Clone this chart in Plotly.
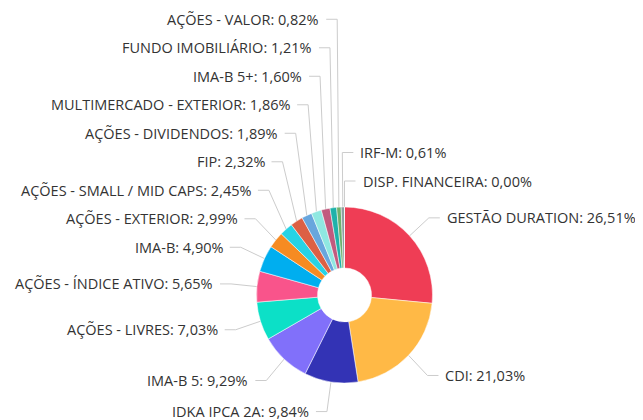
import math
import plotly.graph_objects as go

categories = [
    "GESTÃO DURATION", "CDI", "IDKA IPCA 2A", "IMA-B 5", "AÇÕES - LIVRES",
    "AÇÕES - ÍNDICE ATIVO", "IMA-B", "AÇÕES - EXTERIOR", "AÇÕES - SMALL / MID CAPS",
    "FIP", "AÇÕES - DIVIDENDOS", "MULTIMERCADO - EXTERIOR", "IMA-B 5+",
    "FUNDO IMOBILIÁRIO", "AÇÕES - VALOR", "IRF-M", "DISP. FINANCEIRA",
]
values = [26.51, 21.03, 9.84, 9.29, 7.03, 5.65, 4.90, 2.99, 2.45,
          2.32, 1.89, 1.86, 1.60, 1.21, 0.82, 0.61, 0.00]
colors = ["#EF3D55", "#FFB946", "#3333B5", "#8170FA", "#0CE0C7", "#F9548B",
          "#00AEEF", "#F68B22", "#27D3E5", "#DC6044", "#68A6DD", "#8FE8E1",
          "#C15A7E", "#1EB2AA", "#6DB16D", "#8CA0A0", "#999999"]

W, H = 643, 420
OFF = 8.0         # page body margin: page pixel = figure pixel + OFF
CX, CY, R = 344.5, 295.0, 88.0   # page pixels
RHO = 114.0
SPACING = 28.5
SEG = 11.0
GAP = 5.0

fig = go.Figure()
fig.add_trace(go.Pie(
    labels=categories, values=values, sort=False, direction="clockwise",
    marker=dict(colors=colors, line=dict(color="white", width=0.5)),
    hole=27 / 88, textinfo="none", showlegend=False,
    domain=dict(x=[(CX - R - OFF) / W, (CX + R - OFF) / W],
                y=[1 - (CY + R - OFF) / H, 1 - (CY - R - OFF) / H]),
))

total = sum(values)
items = []
cum = 0.0
for name, v in zip(categories, values):
    mid = (cum + v / 2) / total * 360.0
    cum += v
    side = "left" if 180 < mid < 358 else "right"
    th = math.radians(mid)
    c, s = math.cos(th), math.sin(th)
    ex, ey = CX + R * s, CY - R * c
    rho_y = RHO + 2.0 - 2.0 * c
    bx, ny = CX + RHO * s, CY - rho_y * c
    key = mid if side == "left" else (mid - 360 if mid > 180 else mid)
    items.append(dict(name=name, v=v, side=side, ex=ex, ey=ey, bx=bx, ny=ny, key=key))

left = sorted([i for i in items if i["side"] == "left"], key=lambda d: d["key"])
right = sorted([i for i in items if i["side"] == "right"], key=lambda d: -d["key"])
for group in (left, right):
    prev = None
    for it in group:
        y = it["ny"] if prev is None else min(it["ny"], prev - SPACING)
        it["ly"] = y
        prev = y

annotations = []
for it in items:
    sgn = -1 if it["side"] == "left" else 1
    xs = [it["ex"], it["bx"], it["bx"] + sgn * SEG]
    ys = [it["ey"], it["ly"], it["ly"]]
    fig.add_trace(go.Scatter(x=xs, y=ys, mode="lines", line=dict(color="#CCCCCC", width=1),
                             hoverinfo="skip", showlegend=False))
    num = f"{it['v']:.2f}".replace(".", ",")
    txt = f"{it['name']}: {num}%"
    annotations.append(dict(
        x=it["bx"] + sgn * (SEG + GAP), y=it["ly"], xref="x", yref="y",
        text=txt, showarrow=False, xanchor="right" if sgn < 0 else "left", yanchor="middle",
        font=dict(family="Open Sans", size=14.5, color="#333333"),
    ))

fig.update_layout(
    width=W, height=H, margin=dict(l=0, r=0, t=0, b=0),
    paper_bgcolor="white", plot_bgcolor="rgba(0,0,0,0)",
    xaxis=dict(range=[OFF, W + OFF], visible=False, fixedrange=True, domain=[0, 1]),
    yaxis=dict(range=[H + OFF, OFF], visible=False, fixedrange=True, domain=[0, 1]),
    annotations=annotations, showlegend=False,
)
fig.write_html("out.html")
